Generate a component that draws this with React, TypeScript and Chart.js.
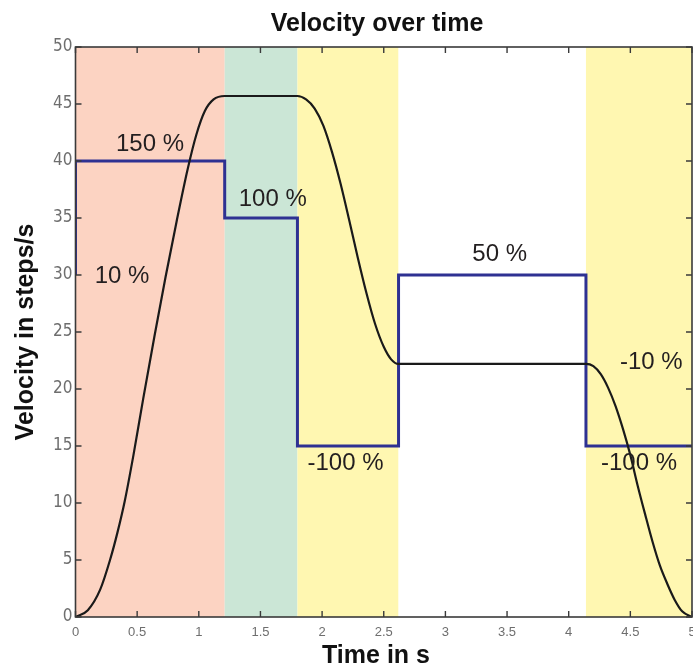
import React, { useEffect, useRef } from 'react';
import { Chart, registerables } from 'chart.js';

Chart.register(...registerables);

// ---- data ----
const xTicks = [0, 0.5, 1, 1.5, 2, 2.5, 3, 3.5, 4, 4.5, 5];
const yTicks = [0, 5, 10, 15, 20, 25, 30, 35, 40, 45, 50];

const bandStart = [0, 1.21, 1.8, 2.62, 4.14];
const bandEnd = [1.21, 1.8, 2.62, 4.14, 5];
const bandColors = ['#FCD3C2', '#CBE6D6', '#FFF7B1', '#FFFFFF', '#FFF7B1'];

const stepTimes = [0, 0, 1.21, 1.8, 2.62, 4.14, 5];
const stepValues = [30, 40, 35, 15, 30, 15, 15];

const curveTimes = [
  0, 0.1, 0.2, 0.28, 0.34, 0.4, 0.47, 0.55, 0.64, 0.73, 0.82, 0.91, 0.98, 1.05, 1.12, 1.21,
  1.8, 1.87, 1.94, 2.01, 2.08, 2.15, 2.22, 2.29, 2.36, 2.43, 2.5, 2.56, 2.62,
  4.14, 4.2, 4.26, 4.32, 4.38, 4.44, 4.5, 4.56, 4.62, 4.68, 4.74, 4.8, 4.86, 4.92, 5,
];
const curveValues = [
  0, 0.6, 2.4, 5, 7.4, 10.2, 14.2, 19.2, 24.6, 29.8, 34.7, 39.3, 42.3, 44.4, 45.4, 45.7,
  45.7, 45.4, 44.6, 43.1, 40.8, 38.0, 34.8, 31.5, 28.4, 25.7, 23.7, 22.6, 22.2,
  22.2, 22.0, 21.3, 20.1, 18.5, 16.5, 14.2, 11.5, 9.0, 6.6, 4.5, 2.9, 1.5, 0.5, 0,
];

const labelTexts = ['150 %', '10 %', '100 %', '-100 %', '50 %', '-10 %', '-100 %'];
const labelTimes = [0.604, 0.377, 1.6, 2.19, 3.44, 4.67, 4.57];
const labelValues = [41.5, 29.9, 36.6, 13.5, 31.8, 22.3, 13.5];

const titleText = 'Velocity over time';
const xTitleText = 'Time in s';
const yTitleText = 'Velocity in steps/s';

const FRAME = '#3a3a3a';
const TICKCOL = '#6e6e6e';

const bandsPlugin = {
  id: 'bands',
  beforeDraw(chart: any) {
    const { ctx, chartArea, scales } = chart;
    const x = scales.x;
    ctx.save();
    for (let i = 0; i < bandStart.length; i++) {
      const x0 = x.getPixelForValue(bandStart[i]);
      const x1 = x.getPixelForValue(bandEnd[i]);
      ctx.fillStyle = bandColors[i];
      ctx.fillRect(x0, chartArea.top, x1 - x0, chartArea.bottom - chartArea.top);
    }
    ctx.restore();
  },
};

const framePlugin = {
  id: 'frame',
  afterDraw(chart: any) {
    const { ctx, chartArea, scales } = chart;
    const { left, right, top, bottom } = chartArea;
    const x = scales.x;
    const y = scales.y;
    ctx.save();
    ctx.strokeStyle = FRAME;
    ctx.lineWidth = 1.6;
    ctx.strokeRect(left, top, right - left, bottom - top);
    ctx.lineWidth = 1.4;
    const tl = 6;
    ctx.beginPath();
    x.ticks.forEach((t: any) => {
      const px = x.getPixelForValue(t.value);
      ctx.moveTo(px, bottom);
      ctx.lineTo(px, bottom - tl);
      ctx.moveTo(px, top);
      ctx.lineTo(px, top + tl);
    });
    y.ticks.forEach((t: any) => {
      const py = y.getPixelForValue(t.value);
      ctx.moveTo(left, py);
      ctx.lineTo(left + tl, py);
      ctx.moveTo(right, py);
      ctx.lineTo(right - tl, py);
    });
    ctx.stroke();

    // titles
    ctx.fillStyle = '#111';
    ctx.font = 'bold 25px "Liberation Sans", Arial, sans-serif';
    ctx.textAlign = 'center';
    ctx.textBaseline = 'alphabetic';
    ctx.fillText(titleText, 377, 31);
    ctx.fillText(xTitleText, 376, 663);
    ctx.save();
    ctx.translate(33, (top + bottom) / 2);
    ctx.rotate(-Math.PI / 2);
    ctx.fillText(yTitleText, 0, 0);
    ctx.restore();
    ctx.restore();
  },
};

const labelsPlugin = {
  id: 'stepLabels',
  afterDatasetsDraw(chart: any) {
    const { ctx, scales } = chart;
    ctx.save();
    ctx.fillStyle = '#231f20';
    ctx.font = '24px "Liberation Sans", Arial, sans-serif';
    ctx.textAlign = 'center';
    ctx.textBaseline = 'middle';
    for (let i = 0; i < labelTexts.length; i++) {
      ctx.fillText(labelTexts[i], scales.x.getPixelForValue(labelTimes[i]), scales.y.getPixelForValue(labelValues[i]));
    }
    ctx.restore();
  },
};

export default function App() {
  const ref = useRef<HTMLCanvasElement | null>(null);
  useEffect(() => {
    if (!ref.current) return;
    const chart = new Chart(ref.current, {
      type: 'scatter',
      data: {
        datasets: [
          {
            label: 'velocity',
            data: curveTimes.map((t, i) => ({ x: t, y: curveValues[i] })),
            showLine: true,
            borderColor: '#1a1a1a',
            borderWidth: 2.2,
            pointRadius: 0,
            cubicInterpolationMode: 'monotone',
            fill: false,
            order: 1,
          },
          {
            label: 'override',
            data: stepTimes.map((t, i) => ({ x: t, y: stepValues[i] })),
            showLine: true,
            stepped: 'before',
            borderColor: '#2E3192',
            borderWidth: 3,
            pointRadius: 0,
            fill: false,
            order: 2,
          },
        ],
      },
      options: {
        animation: false,
        responsive: false,
        maintainAspectRatio: false,
        layout: { padding: { top: 47, right: 1, left: 0, bottom: 0 } },
        plugins: {
          legend: { display: false },
          tooltip: { enabled: false },
          title: { display: false },
        },
        scales: {
          x: {
            type: 'linear',
            min: 0,
            max: 5,
            afterBuildTicks: (s: any) => {
              s.ticks = xTicks.map((v) => ({ value: v }));
            },
            afterFit: (s: any) => {
              s.height = 52;
              s.paddingLeft = 0;
              s.paddingRight = 0;
            },
            grid: { display: false, drawTicks: false },
            border: { display: false },
            ticks: {
              color: TICKCOL,
              padding: 8,
              maxRotation: 0,
              autoSkip: false,
              font: { family: '"Liberation Sans", Arial, sans-serif', size: 13 },
              callback: (v: any) => String(v),
            },
          },
          y: {
            type: 'linear',
            min: 0,
            max: 50,
            afterBuildTicks: (s: any) => {
              s.ticks = yTicks.map((v) => ({ value: v }));
            },
            afterFit: (s: any) => {
              s.width = 75.5;
              s.paddingTop = 0;
              s.paddingBottom = 0;
            },
            grid: { display: false, drawTicks: false },
            border: { display: false },
            ticks: {
              color: TICKCOL,
              padding: 3,
              autoSkip: false,
              font: { family: '"Liberation Sans Narrow", "DejaVu Sans Condensed", Arial, sans-serif', size: 17 },
              callback: (v: any) => String(v),
            },
          },
        },
      },
      plugins: [bandsPlugin, framePlugin, labelsPlugin],
    } as any);
    return () => chart.destroy();
  }, []);
  return (
    <div style={{ position: 'absolute', left: 0, top: 0, width: 693, height: 669 }}>
      <canvas ref={ref} width={693} height={669} />
    </div>
  );
}
